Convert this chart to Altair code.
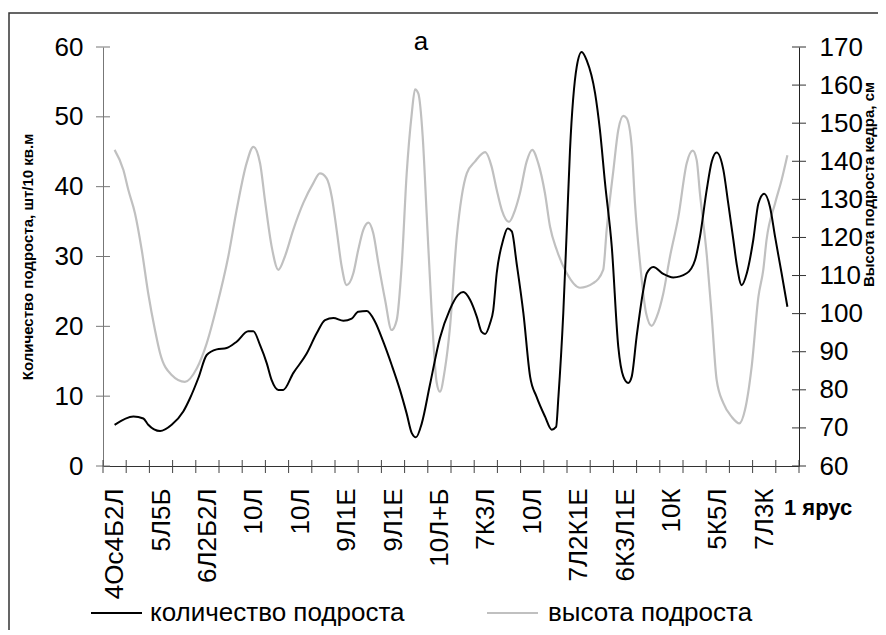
import altair as alt
import pandas as pd

# ---- categories (x axis) ----
n_categories = 30
category_labels = ["4Ос4Б2Л", "5Л5Б", "6Л2Б2Л", "10Л", "10Л", "9Л1Е", "9Л1Е",
                   "10Л+Б", "7К3Л", "10Л", "7Л2К1Е", "6К3Л1Е", "10К", "5К5Л", "7Л3К"]
label_positions = [0, 2, 4, 6, 8, 10, 12, 14, 16, 18, 20, 22, 24, 26, 28]
tick_boundaries = [k - 0.5 for k in range(n_categories + 1)]

# ---- количество подроста (left axis), position in category units ----
count_x = [0.0, 0.81, 1.24, 1.45, 1.96, 2.46, 2.96, 3.25, 3.61, 3.97, 4.40, 4.83, 5.26, 5.76,
           5.98, 6.27, 6.56, 6.77, 7.06, 7.27, 7.70, 8.28, 8.71, 9.07, 9.43, 9.86, 10.22,
           10.50, 10.87, 11.22, 11.58, 11.94, 12.30, 12.59, 12.81, 12.99, 13.24, 13.59,
           14.02, 14.45, 14.81, 15.03, 15.32, 15.61, 15.82, 15.97, 16.18, 16.32, 16.47,
           16.75, 16.94, 17.12, 17.33, 17.62, 17.91, 18.19, 18.55, 18.84, 19.03, 19.13,
           19.34, 19.49, 19.63, 19.92, 20.13, 20.35, 20.71, 20.92, 21.14, 21.43, 21.71,
           21.93, 22.14, 22.29, 22.50, 22.79, 22.94, 23.22, 23.65, 24.08, 24.66, 25.02,
           25.23, 25.52, 25.74, 25.95, 26.24, 26.45, 26.67, 26.81, 27.03, 27.25, 27.53,
           27.75, 28.00, 28.25, 28.47, 28.75, 29.0]
count_y = [5.9, 7.1, 6.8, 5.9, 5.0, 5.9, 7.8, 9.7, 12.6, 15.9, 16.7, 16.9, 17.8, 19.3,
           19.3, 17.3, 14.7, 12.3, 10.9, 10.9, 13.3, 16.1, 19.0, 20.9, 21.2, 20.8, 21.1,
           22.1, 22.2, 20.7, 17.8, 14.5, 10.9, 7.5, 4.7, 4.1, 6.1, 11.6,
           18.3, 22.4, 24.5, 24.9, 23.8, 21.4, 19.2, 18.9, 20.4, 22.3, 27.6,
           32.4, 34.0, 33.6, 29.0, 21.9, 12.8, 9.9, 7.1, 5.2, 5.6, 9.9,
           21.9, 33.8, 45.3, 57.2, 59.3, 58.1, 53.4, 48.1, 40.5, 31.4, 17.1,
           12.8, 11.9, 12.8, 18.5, 25.2, 27.6, 28.5, 27.5, 27.0, 27.6, 29.5,
           32.8, 39.5, 43.6, 44.9, 42.4, 37.6, 32.4, 29.0, 25.9, 27.6, 32.4,
           37.6, 39.0, 37.1, 32.8, 27.6, 22.8]

# ---- высота подроста (right axis) ----
height_x = [0.0, 0.38, 0.59, 0.88, 1.17, 1.45, 1.74, 1.96, 2.46, 3.03, 3.54, 3.97, 4.40,
            4.90, 5.26, 5.69, 5.98, 6.27, 6.48, 6.77, 7.06, 7.34, 7.70, 8.13, 8.56, 8.85,
            9.14, 9.36, 9.57, 9.79, 10.00, 10.29, 10.50, 10.72, 10.94, 11.15, 11.37,
            11.66, 11.94, 12.16, 12.38, 12.59, 12.81, 12.95, 13.09, 13.28, 13.45, 13.67,
            13.88, 14.02, 14.24, 14.45, 14.75, 14.96, 15.18, 15.53, 15.97, 16.25, 16.47,
            16.69, 17.00, 17.26, 17.47, 17.76, 18.00, 18.26, 18.55, 18.77, 19.06, 19.49,
            20.06, 20.63, 21.06, 21.21, 21.50, 21.71, 21.93, 22.07, 22.29, 22.43, 22.65,
            22.91, 23.15, 23.37, 23.65, 23.94, 24.30, 24.66, 24.92, 25.09, 25.23, 25.53,
            25.74, 25.95, 26.24, 26.60, 26.93, 27.17, 27.46, 27.75, 27.96, 28.10, 28.47,
            28.75, 29.0]
height_y = [143.0, 137.7, 132.5, 126.3, 116.7, 105.3, 95.7, 89.6, 83.9, 82.1, 85.6, 92.2,
            101.8, 115.0, 127.2, 139.5, 143.8, 139.5, 129.8, 117.6, 111.5, 115.0, 122.0,
            129.0, 134.2, 136.8, 135.5, 130.7, 122.0, 112.3, 107.5, 110.6, 116.7, 122.0,
            123.9, 121.1, 113.2, 103.6, 95.7, 98.3, 113.2, 136.8, 152.6, 158.9, 157.8,
            146.5, 126.3, 100.1, 82.0, 79.5, 85.5, 96.0, 120.2, 130.7, 136.8, 139.9,
            142.4, 138.6, 132.5, 127.2, 124.1, 127.2, 131.6, 139.9, 143.0, 139.5, 131.6,
            122.8, 116.7, 110.6, 106.8, 108.0, 111.5, 122.0, 137.7, 148.2, 151.9, 151.3,
            143.8, 129.0, 113.2, 100.1, 96.8, 99.2, 105.3, 115.0, 125.4, 139.5, 142.8,
            140.3, 131.6, 115.0, 99.2, 82.6, 76.5, 72.9, 71.2, 74.7, 86.1, 104.4, 111.5,
            119.3, 129.0, 135.1, 141.6]

left_ticks = [0, 10, 20, 30, 40, 50, 60]
right_ticks = [60, 70, 80, 90, 100, 110, 120, 130, 140, 150, 160, 170]

FONT = "Liberation Sans"
W, H = 696, 419

count_df = pd.DataFrame({"x": count_x, "v": count_y})
height_df = pd.DataFrame({"x": height_x, "v": height_y})

label_expr = "[" + ",".join("'%s'" % s for s in category_labels) + "][round(datum.value / 2)]"

x_scale = alt.Scale(domain=[-0.5, n_categories - 0.5], nice=False, zero=False)
x_axis = alt.Axis(values=label_positions, labelExpr=label_expr, labelAngle=-90,
                  ticks=False, tickSize=0, labelPadding=22, labelFontSize=26,
                  labelColor="black", labelFont=FONT, labelOverlap=False,
                  labelFlush=False, labelBound=False, domainColor="#333",
                  domainWidth=1, grid=False, title=None)

left_scale = alt.Scale(domain=[0, 60], nice=False, zero=False)
right_scale = alt.Scale(domain=[60, 170], nice=False, zero=False)

count_line = alt.Chart(count_df).mark_line(
    color="black", strokeWidth=2, interpolate="monotone"
).encode(
    x=alt.X("x:Q", scale=x_scale, axis=x_axis),
    y=alt.Y("v:Q", scale=left_scale, axis=alt.Axis(
        orient="left", values=left_ticks, ticks=False, labelPadding=20,
        labelFontSize=26, labelFont=FONT, labelColor="black", domainColor="#777",
        grid=False, title="Количество подроста, шт/10 кв.м", titleFont=FONT,
        titleFontSize=15, titleFontWeight="bold", titleColor="black",
        titleAngle=-90, titleX=-76, titleY=H / 2, titleAlign="center",
        titleBaseline="middle")),
)

height_line = alt.Chart(height_df).mark_line(
    color="#c0c0c0", strokeWidth=2.2, interpolate="monotone"
).encode(
    x=alt.X("x:Q", scale=x_scale, axis=x_axis),
    y=alt.Y("v:Q", scale=right_scale, axis=alt.Axis(
        orient="right", values=right_ticks, ticks=False, labelPadding=20,
        labelFontSize=26, labelFont=FONT, labelColor="black", domainColor="#222",
        grid=False, title="Высота подроста кедра, см", titleFont=FONT,
        titleFontSize=15, titleFontWeight="bold", titleColor="black",
        titleAngle=-90, titleX=69, titleY=137, titleAlign="center",
        titleBaseline="middle")),
)

left_tick_marks = alt.Chart(pd.DataFrame({"t": left_ticks})).mark_rule(
    color="#777", strokeWidth=1
).encode(y=alt.Y("t:Q", scale=left_scale, axis=None),
         x=alt.value(-7), x2=alt.value(7))

right_tick_marks = alt.Chart(pd.DataFrame({"t": right_ticks})).mark_rule(
    color="#333", strokeWidth=1
).encode(y=alt.Y("t:Q", scale=right_scale, axis=None),
         x=alt.value(W - 7), x2=alt.value(W + 7))

bottom_tick_marks = alt.Chart(pd.DataFrame({"b": tick_boundaries})).mark_rule(
    color="#444", strokeWidth=1
).encode(x=alt.X("b:Q", scale=x_scale, axis=x_axis),
         y=alt.value(H - 6), y2=alt.value(H + 7))

one = pd.DataFrame({"k": [0]})

frame = alt.Chart(one).mark_rect(
    fill="transparent", stroke="#333", strokeWidth=1.5
).encode(x=alt.value(-94), x2=alt.value(790), y=alt.value(-34), y2=alt.value(640))

panel_title = alt.Chart(pd.DataFrame({"t": ["а"]})).mark_text(
    font=FONT, fontSize=26, align="center", baseline="alphabetic", color="black"
).encode(x=alt.value(318), y=alt.value(3), text="t:N")

tier_label = alt.Chart(pd.DataFrame({"t": ["1 ярус"]})).mark_text(
    font=FONT, fontSize=22, fontWeight="bold", align="left", baseline="alphabetic",
    color="black"
).encode(x=alt.value(681), y=alt.value(H + 49), text="t:N")

legend_names = ["количество подроста", "высота подроста"]
legend_colors = ["black", "#c0c0c0"]

leg1_line = alt.Chart(one).mark_rule(color=legend_colors[0], strokeWidth=2).encode(
    x=alt.value(-12), x2=alt.value(39), y=alt.value(566))
leg1_text = alt.Chart(pd.DataFrame({"t": [legend_names[0]]})).mark_text(
    font=FONT, fontSize=26, align="left", baseline="middle", color="black"
).encode(x=alt.value(47), y=alt.value(566), text="t:N")
leg2_line = alt.Chart(one).mark_rule(color=legend_colors[1], strokeWidth=2).encode(
    x=alt.value(384), x2=alt.value(435), y=alt.value(566))
leg2_text = alt.Chart(pd.DataFrame({"t": [legend_names[1]]})).mark_text(
    font=FONT, fontSize=26, align="left", baseline="middle", color="black"
).encode(x=alt.value(445), y=alt.value(566), text="t:N")

chart = alt.layer(
    frame, height_line, count_line, left_tick_marks, right_tick_marks,
    bottom_tick_marks, panel_title, tier_label, leg1_line, leg1_text,
    leg2_line, leg2_text
).resolve_scale(y="independent").properties(
    width=W, height=H,
    autosize=alt.AutoSizeParams(type="none"),
    padding={"left": 95, "top": 39, "right": 79, "bottom": 164},
    background="white",
).configure_view(stroke=None)

chart.save("out.html", embed_options={"renderer": "svg", "actions": False})
